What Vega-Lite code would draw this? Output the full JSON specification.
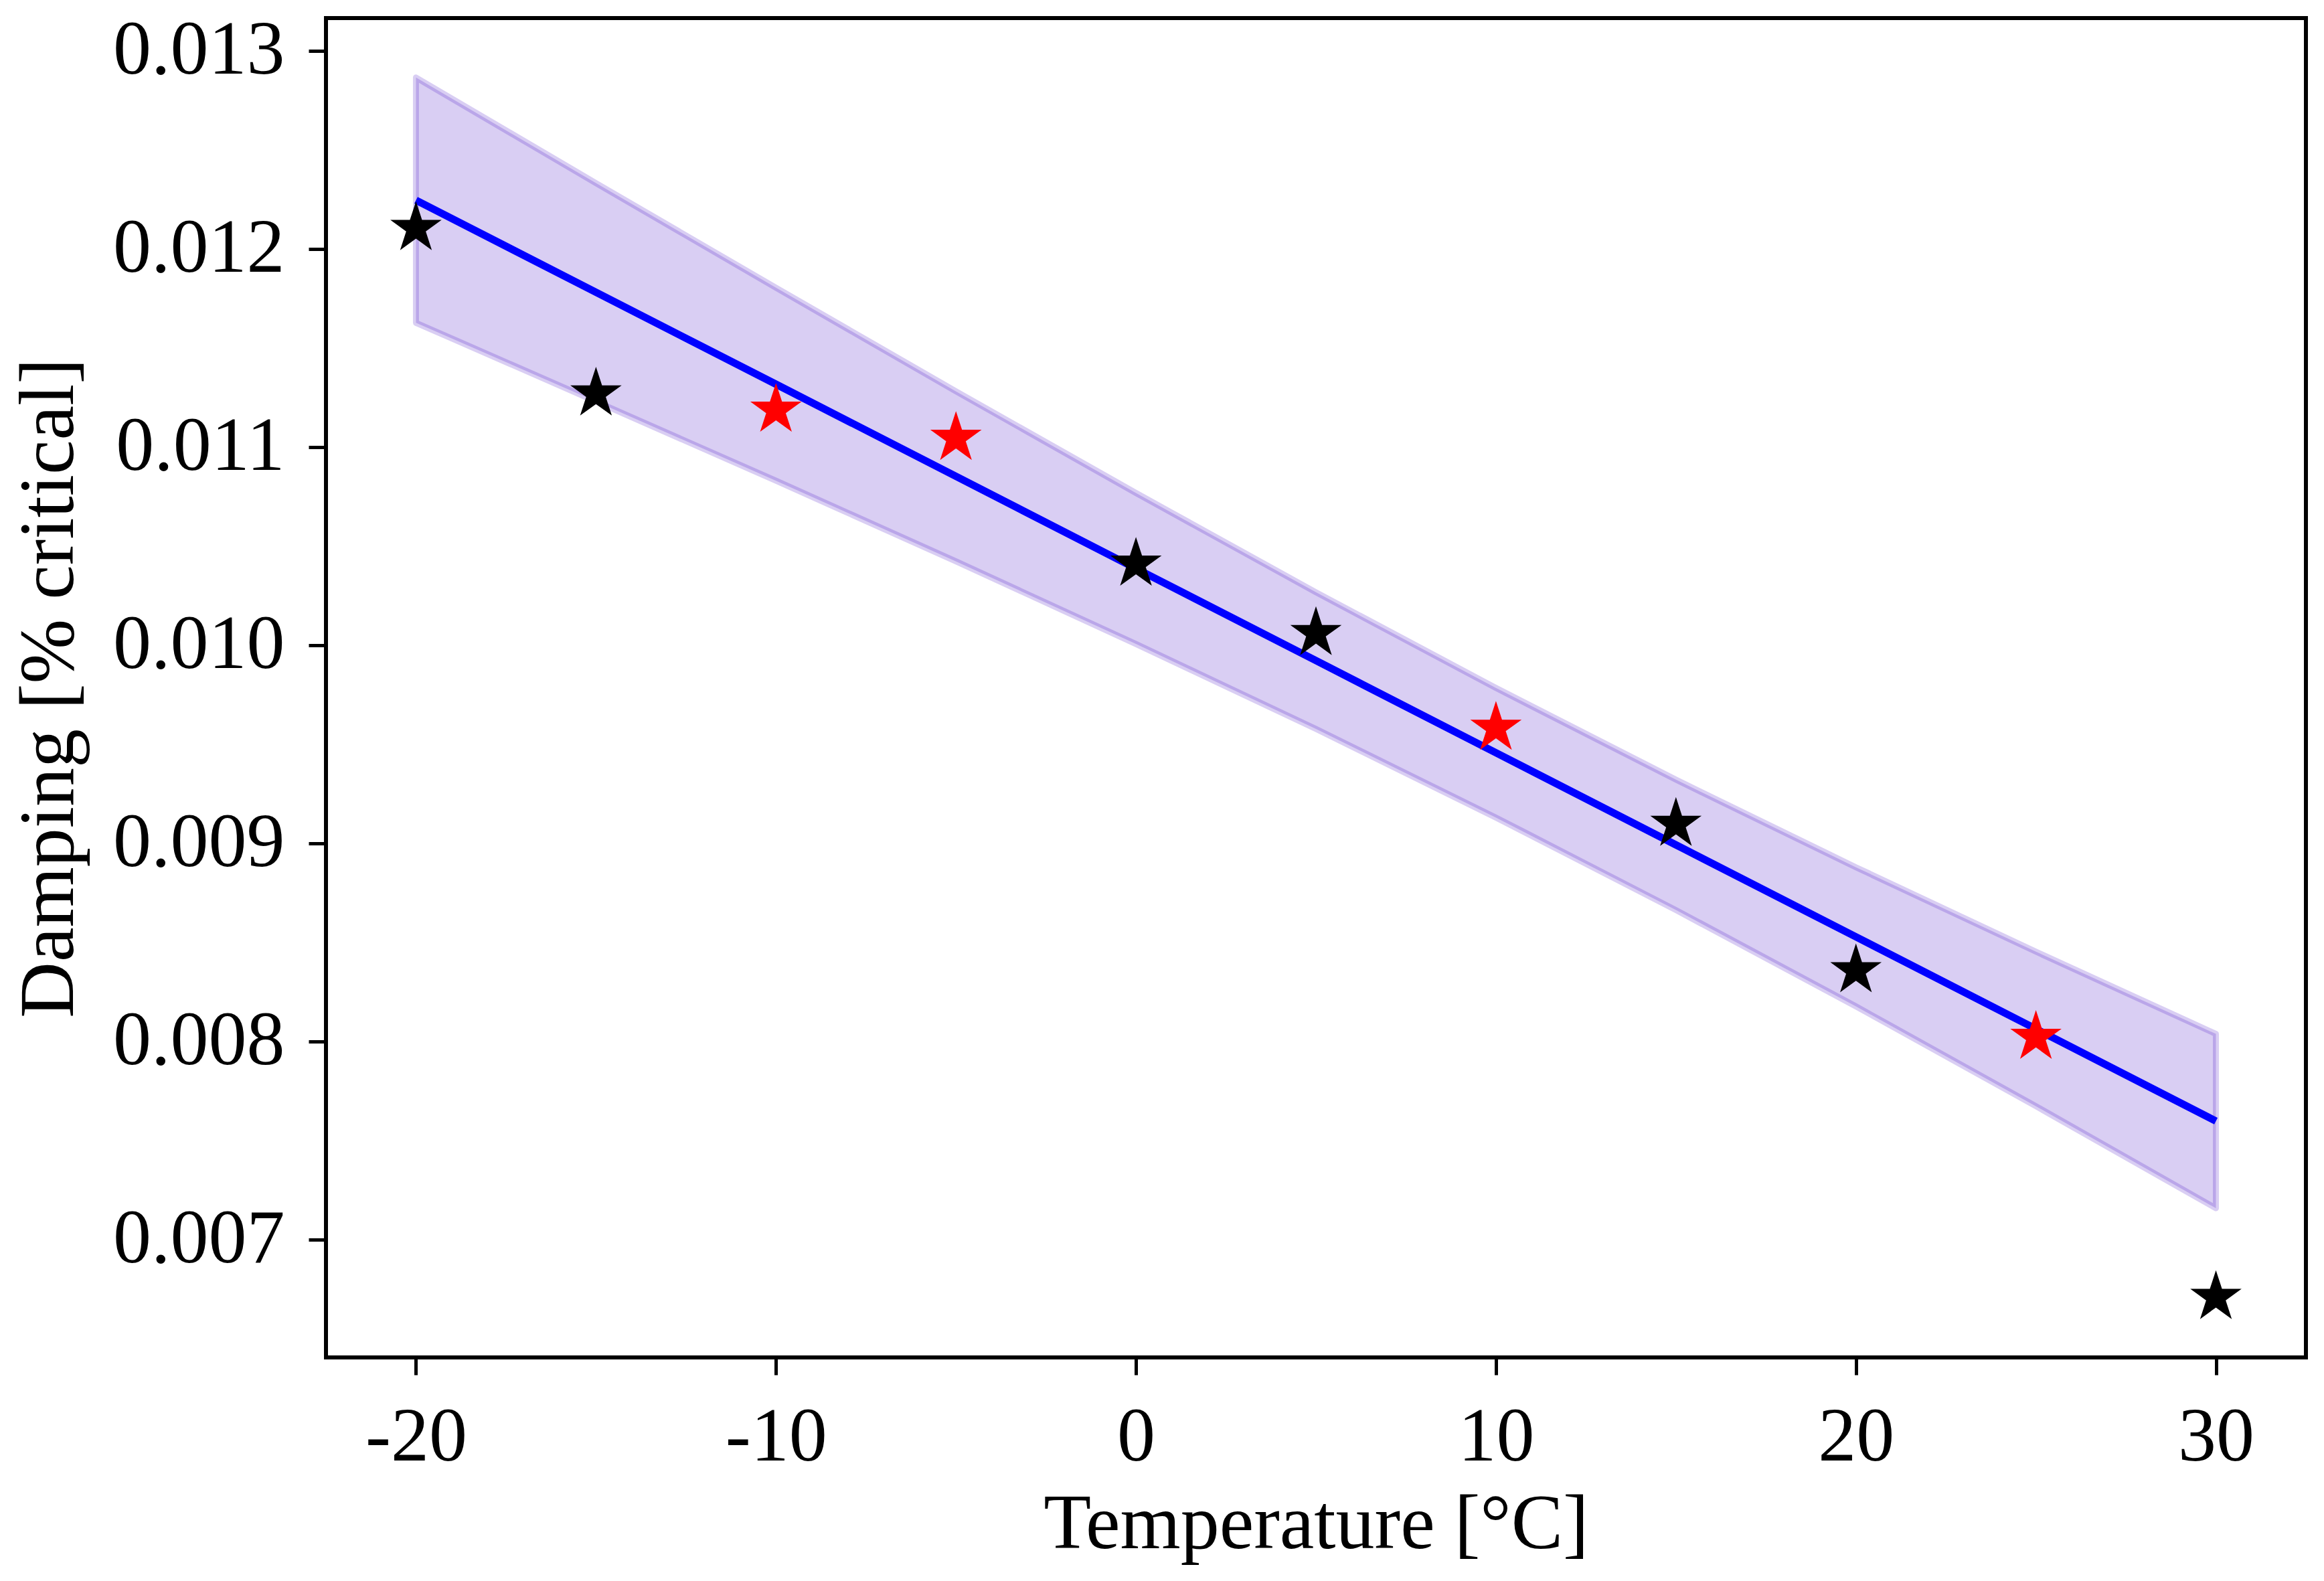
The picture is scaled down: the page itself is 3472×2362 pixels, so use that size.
{
  "$schema": "https://vega.github.io/schema/vega-lite/v6.json",
  "width": 2958,
  "height": 2001,
  "autosize": {"type": "none"},
  "padding": {"left": 487, "top": 27, "right": 27, "bottom": 334},
  "background": "white",
  "config": {
    "view": {"stroke": "#000000", "strokeWidth": 6},
    "axis": {
      "domain": false,
      "grid": false,
      "ticks": true,
      "tickColor": "#000000",
      "tickWidth": 5,
      "tickSize": 26,
      "labelFont": "Liberation Serif",
      "labelFontSize": 114,
      "labelLimit": 0,
      "labelColor": "#000000",
      "titleFont": "Liberation Serif",
      "titleFontSize": 116,
      "titleFontWeight": "normal",
      "titleColor": "#000000",
      "titleLimit": 0
    }
  },
  "datasets": {
    "points": [
      {"T": -20, "D": 0.012104, "set": "black"},
      {"T": -15, "D": 0.011269, "set": "black"},
      {"T": -10, "D": 0.011187, "set": "red"},
      {"T": -5, "D": 0.011045, "set": "red"},
      {"T": 0, "D": 0.010410, "set": "black"},
      {"T": 5, "D": 0.010060, "set": "black"},
      {"T": 10, "D": 0.009582, "set": "red"},
      {"T": 15, "D": 0.009097, "set": "black"},
      {"T": 20, "D": 0.008358, "set": "black"},
      {"T": 25, "D": 0.008022, "set": "red"},
      {"T": 30, "D": 0.006709, "set": "black"}
    ],
    "fit": [
      {"T": -20, "fit": 0.012246, "lo": 0.011627, "hi": 0.012865},
      {"T": -15, "fit": 0.011781, "lo": 0.011230, "hi": 0.012332},
      {"T": -10, "fit": 0.011317, "lo": 0.010830, "hi": 0.011804},
      {"T": -5, "fit": 0.010852, "lo": 0.010423, "hi": 0.011281},
      {"T": 0, "fit": 0.010387, "lo": 0.010006, "hi": 0.010768},
      {"T": 5, "fit": 0.009922, "lo": 0.009577, "hi": 0.010267},
      {"T": 10, "fit": 0.009457, "lo": 0.009130, "hi": 0.009784},
      {"T": 15, "fit": 0.008992, "lo": 0.008663, "hi": 0.009321},
      {"T": 20, "fit": 0.008528, "lo": 0.008177, "hi": 0.008879},
      {"T": 25, "fit": 0.008063, "lo": 0.007673, "hi": 0.008453},
      {"T": 30, "fit": 0.007598, "lo": 0.007158, "hi": 0.008038}
    ]
  },
  "layer": [
    {
      "data": {"name": "fit"},
      "mark": {
        "type": "area",
        "color": "#410CC4",
        "fillOpacity": 0.2,
        "stroke": "#410CC4",
        "strokeOpacity": 0.2,
        "strokeWidth": 9,
        "strokeJoin": "round"
      },
      "encoding": {
        "x": {
          "field": "T",
          "type": "quantitative",
          "scale": {"domain": [-22.5, 32.5], "nice": false, "zero": false},
          "axis": {
            "title": "Temperature [°C]",
            "values": [-20, -10, 0, 10, 20, 30],
            "labelExpr": "'' + datum.value",
            "labelBaseline": "alphabetic",
            "labelPadding": 127,
            "titleBaseline": "alphabetic",
            "titleY": 284
          }
        },
        "y": {
          "field": "hi",
          "type": "quantitative",
          "scale": {"domain": [0.006405, 0.013165], "nice": false, "zero": false},
          "axis": {
            "title": "Damping [% critical]",
            "values": [0.007, 0.008, 0.009, 0.010, 0.011, 0.012, 0.013],
            "format": ".3f",
            "labelPadding": 36,
            "titleBaseline": "alphabetic",
            "titleX": -379
          }
        },
        "y2": {"field": "lo"}
      }
    },
    {
      "data": {"name": "fit"},
      "mark": {"type": "line", "color": "#0000ff", "strokeWidth": 11},
      "encoding": {
        "x": {"field": "T", "type": "quantitative"},
        "y": {"field": "fit", "type": "quantitative"}
      }
    },
    {
      "data": {"name": "points"},
      "mark": {
        "type": "point",
        "filled": true,
        "opacity": 1,
        "size": 6500,
        "shape": "M0,-1L0.2245,-0.309L0.9511,-0.309L0.3633,0.118L0.5878,0.809L0,0.382L-0.5878,0.809L-0.3633,0.118L-0.9511,-0.309L-0.2245,-0.309Z"
      },
      "encoding": {
        "x": {"field": "T", "type": "quantitative"},
        "y": {"field": "D", "type": "quantitative"},
        "color": {
          "field": "set",
          "type": "nominal",
          "scale": {"domain": ["black", "red"], "range": ["#000000", "#ff0000"]},
          "legend": null
        }
      }
    }
  ]
}
